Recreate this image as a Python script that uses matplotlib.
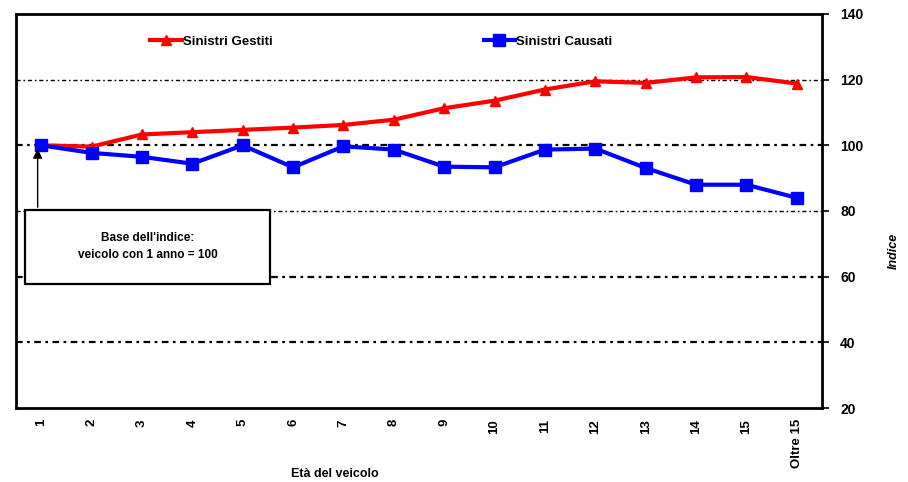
import matplotlib
matplotlib.use("Agg")
import matplotlib.pyplot as plt
from matplotlib.patches import Rectangle

plt.rcParams['font.family'] = ['Liberation Sans', 'DejaVu Sans']

# --- dati ---
categorie = ["1", "2", "3", "4", "5", "6", "7", "8", "9", "10",
             "11", "12", "13", "14", "15", "Oltre 15"]
gestiti = [100, 99.6, 103.3, 104, 104.7, 105.4, 106.2, 107.8, 111.3, 113.6,
           117, 119.5, 119, 120.7, 120.8, 118.8]
causati = [100, 97.7, 96.5, 94.4, 100, 93.3, 99.7, 98.7, 93.5, 93.3,
           98.7, 99, 93.1, 88, 88, 84]
y_ticks = [20, 40, 60, 80, 100, 120, 140]

x = list(range(1, len(categorie) + 1))

fig = plt.figure(figsize=(9.08, 4.82), dpi=100)
ax = fig.add_axes([0.0176, 0.1535, 0.8877, 0.8175])

# griglia tratteggiata
for yv in [40, 60, 80, 100, 120]:
    lw = 1.6 if yv in (40, 60, 100) else 1.0
    ax.axhline(yv, color="black", lw=lw, dashes=(3, 2, 1.2, 2), zorder=1)

ax.plot(x, gestiti, color="#ff0000", lw=3, marker="^", ms=7,
        label="Sinistri Gestiti", zorder=3)
ax.plot(x, causati, color="#0000ff", lw=3, marker="s", ms=8,
        label="Sinistri Causati", zorder=3)

ax.set_xlim(0.5, len(categorie) + 0.5)
ax.set_ylim(20, 140)
ax.set_xticks(x)
ax.set_xticklabels(categorie, rotation=90, fontsize=9.5, fontweight="bold")
ax.tick_params(axis="x", length=0, pad=8)

ax.yaxis.tick_right()
ax.set_yticks(y_ticks)
ax.set_yticklabels([str(v) for v in y_ticks], fontsize=10, fontweight="bold")
ax.tick_params(axis="y", direction="out", length=5, width=1.2, pad=8)
ax.yaxis.set_label_position("right")
ax.set_ylabel("Indice", fontsize=9, fontweight="bold", style="italic")
ax.yaxis.set_label_coords(1.082, 0.40)

for sp in ax.spines.values():
    sp.set_linewidth(2)

# riquadro base indice
ax.add_patch(Rectangle((0.68, 57.8), 4.86, 22.5, fill=True, facecolor="white",
                       edgecolor="black", lw=1.6, zorder=4))
ax.text(3.11, 69.2, "Base dell'indice:\nveicolo con 1 anno = 100", ha="center",
        va="center", fontsize=8.5, fontweight="bold", linespacing=1.6, zorder=5)
ax.annotate("", xy=(0.93, 99.8), xytext=(0.93, 80.3),
            arrowprops=dict(arrowstyle="-|>", color="black", lw=1, mutation_scale=14),
            zorder=5)

leg = ax.legend(loc="upper left", bbox_to_anchor=(0.152, 0.975), ncol=2, frameon=False,
                handlelength=2.4, handletextpad=0.05, columnspacing=16.0,
                prop={"size": 9.5, "weight": "bold"})

fig.text(0.32, 0.004, "Età del veicolo", fontsize=9, fontweight="bold", va="bottom")

fig.savefig("out.png", dpi=100)
